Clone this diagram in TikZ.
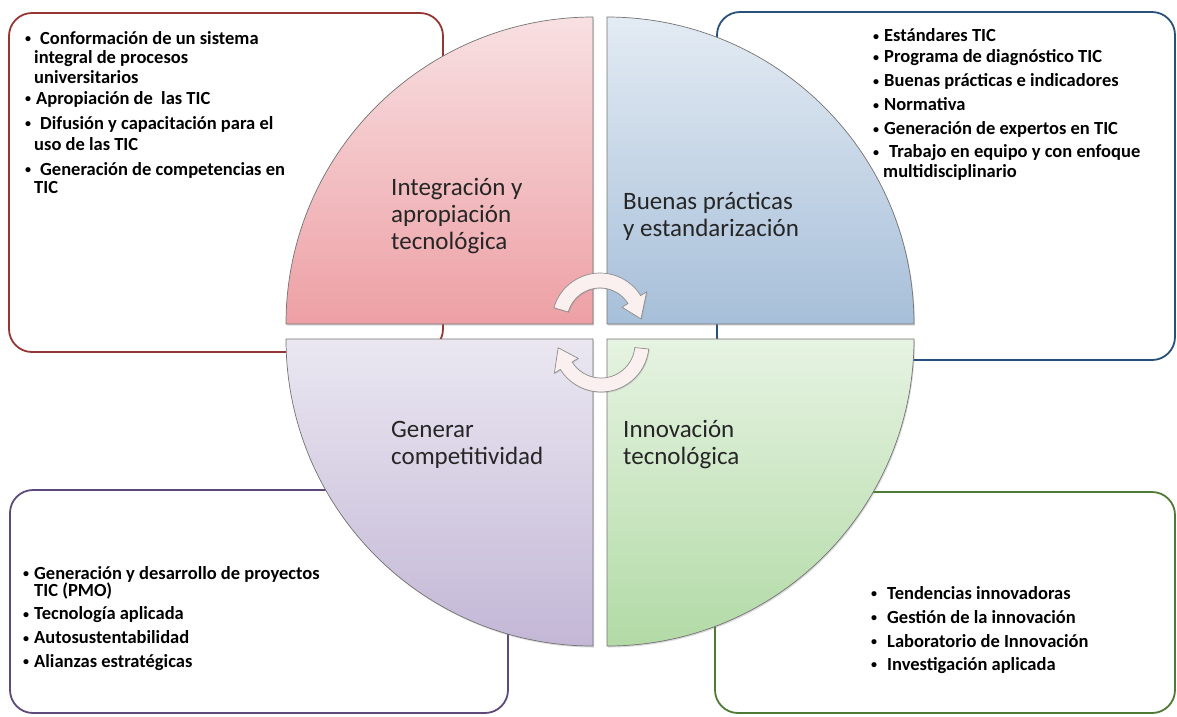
\documentclass[tikz,border=0pt]{standalone}
\usepackage{fontspec}
\setmainfont{Carlito}
\usetikzlibrary{shadows}
\definecolor{intred}{HTML}{943634}
\definecolor{buenblue}{HTML}{27507A}
\definecolor{genpurple}{HTML}{5F497A}
\definecolor{inngreen}{HTML}{4E7A34}
\definecolor{inttop}{HTML}{F8E0E2}
\definecolor{intbot}{HTML}{EDA0A5}
\definecolor{buentop}{HTML}{E3EBF3}
\definecolor{buenbot}{HTML}{A7BFD9}
\definecolor{gentop}{HTML}{EAE7F1}
\definecolor{genbot}{HTML}{C3B7D6}
\definecolor{inntop}{HTML}{E6F3E2}
\definecolor{innbot}{HTML}{B2DAA6}
\definecolor{cycfill}{HTML}{FBF0F0}
\newcommand\blt{\makebox[11pt][l]{\raisebox{1.5pt}{\fontsize{12}{12}\selectfont\textbullet}}}
\tikzset{
  listbox/.style={line width=1.8pt, rounded corners=23pt},
  quad/.style={draw=black!55, line width=0.7pt,
    drop shadow={shadow xshift=1pt, shadow yshift=-1.5pt, opacity=0.3}},
  quadtext/.style={anchor=base west, align=left, inner sep=0pt,
    font=\fontsize{25}{27}\selectfont, text=black!85},
  listtext/.style={anchor=base west, align=left, inner sep=0pt,
    font=\fontsize{18.5}{19.5}\selectfont\bfseries},
  cyc/.style={draw=black!45, line width=0.7pt, fill=cycfill,
    drop shadow={shadow xshift=1pt, shadow yshift=-1pt, opacity=0.25}}
}
\begin{document}
\begin{tikzpicture}[x=1pt,y=-1pt]
\useasboundingbox (0,0) rectangle (1177,716);
\draw[listbox, draw=intred] (9,13) rectangle (443,352);
\draw[listbox, draw=buenblue] (717,12) rectangle (1175,360);
\draw[listbox, draw=genpurple] (10,490) rectangle (508,713);
\draw[listbox, draw=inngreen] (715,492) rectangle (1175,713);
\draw[quad, top color=inttop, bottom color=intbot] (593,324) -- (286,324) arc[start angle=180, end angle=270, radius=307] -- cycle;
\draw[quad, top color=buentop, bottom color=buenbot] (607,324) -- (607,17) arc[start angle=270, end angle=360, radius=307] -- cycle;
\draw[quad, top color=gentop, bottom color=genbot] (593,339) -- (593,646) arc[start angle=90, end angle=180, radius=307] -- cycle;
\draw[quad, top color=inntop, bottom color=innbot] (607,339) -- (914,339) arc[start angle=0, end angle=90, radius=307] -- cycle;
\coordinate (topc) at (600,321);
\coordinate (botc) at (601,344);
\draw[cyc] ([shift={(-164:48)}]topc) arc[start angle=-164, end angle=-32, radius=48]
  -- ([shift={(-32:55)}]topc) -- ([shift={(-3:41)}]topc) -- ([shift={(-32:26)}]topc)
  -- ([shift={(-32:33)}]topc) arc[start angle=-32, end angle=-164, radius=33] -- cycle;
\draw[cyc] ([shift={(6:48)}]botc) arc[start angle=6, end angle=148, radius=48]
  -- ([shift={(148:55)}]botc) -- ([shift={(175:43)}]botc) -- ([shift={(148:27)}]botc)
  -- ([shift={(148:34)}]botc) arc[start angle=148, end angle=6, radius=34] -- cycle;
\node[quadtext] (intq) at (391,249) {Integración y\\apropiación\\tecnológica};
\node[quadtext] (buenq) at (623,236) {Buenas prácticas\\y estandarización};
\node[quadtext] (genq) at (391,464) {Generar\\competitividad};
\node[quadtext] (innq) at (623,464) {Innovación\\tecnológica};
\node[listtext] (intlist) at (25,193) {\blt\hspace{4pt}Conformación de un sistema\\
  \hspace*{9pt}integral de procesos\\
  \hspace*{9pt}universitarios\\[1.5pt]
  \blt Apropiación de\ \ las TIC\\[5.5pt]
  \blt\hspace{4pt}Difusión y capacitación para el\\[1.5pt]
  \hspace*{9pt}uso de las TIC\\[5.5pt]
  \blt\hspace{4pt}Generación de competencias en\\[-1.5pt]
  \hspace*{9pt}TIC};
\node[listtext] (buenlist) at (873,177) {\blt Estándares TIC\\[1.5pt]
  \blt Programa de diagnóstico TIC\\[4.5pt]
  \blt Buenas prácticas e indicadores\\[4.5pt]
  \blt Normativa\\[4.5pt]
  \blt Generación de expertos en TIC\\[3.5pt]
  \blt\hspace{5pt}Trabajo en equipo y con enfoque\\
  \hspace*{10pt}multidisciplinario};
\node[listtext] (genlist) at (23,667) {\blt Generación y desarrollo de proyectos\\[-2.5pt]
  \hspace*{11pt}TIC (PMO)\\[4pt]
  \blt Tecnología aplicada\\[4.5pt]
  \blt Autosustentabilidad\\[4pt]
  \blt Alianzas estratégicas};
\node[listtext] (innlist) at (871,670) {\blt\hspace{5pt}Tendencias innovadoras\\[4.5pt]
  \blt\hspace{5pt}Gestión de la innovación\\[4.5pt]
  \blt\hspace{5pt}Laboratorio de Innovación\\[3.5pt]
  \blt\hspace{5pt}Investigación aplicada};
\end{tikzpicture}
\end{document}
